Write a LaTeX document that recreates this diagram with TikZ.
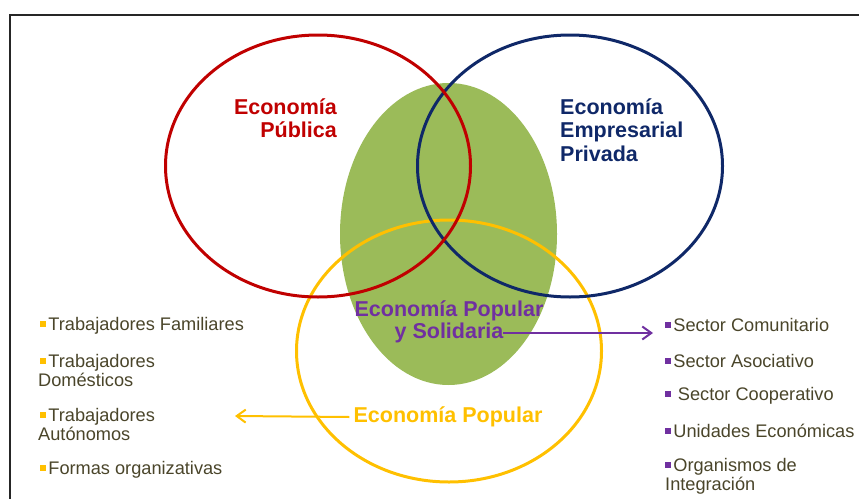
\documentclass[tikz,border=0pt]{standalone}
\usepackage{fontspec}
\setmainfont{Liberation Sans}
\usetikzlibrary{shapes.geometric,arrows.meta}
\definecolor{pubred}{HTML}{C00000}
\definecolor{privblue}{HTML}{0F2868}
\definecolor{epsgreen}{HTML}{9BBB59}
\definecolor{popyellow}{HTML}{FFC000}
\definecolor{solpurple}{HTML}{7030A0}
\definecolor{listtext}{HTML}{4A452A}
\newcommand{\sqbul}[1]{\textcolor{#1}{\rule[0.2em]{0.33em}{0.33em}}\hspace{0.12em}}
\begin{document}
\begin{tikzpicture}[x=1pt,y=-1pt,
  venn/.style={ellipse, draw=#1, line width=3pt, minimum width=305, minimum height=262, inner sep=0},
  biglabel/.style={inner sep=0, font=\bfseries\fontsize{21.5}{23.5}\selectfont},
  listitem/.style={inner sep=0, anchor=west, align=left, text=listtext, font=\fontsize{18.2}{19}\selectfont},
  pointer/.style={line width=2pt, -{Straight Barb[length=9pt,width=13pt,line width=2pt]}}]
\useasboundingbox (0,0) rectangle (859,498);
% outer frame, running past the page edges
\draw[line width=2pt, black!85] (10,530) -- (10,15) -- (880,15);

% shared area of the solidarity economy
\node[ellipse, fill=epsgreen, minimum width=217, minimum height=302, inner sep=0] (epsarea) at (448.5,234) {};

% the three economies
\node[venn=popyellow] (popular) at (449,351) {};
\node[venn=privblue] (private) at (570,166) {};
\node[venn=pubred] (public) at (318,166) {};

% circle labels
\node[biglabel, text=pubred, align=right, anchor=east] (pubtxt) at (337,118) {Economía\\Pública};
\node[biglabel, text=privblue, align=left, anchor=west] (privtxt) at (560,130) {Economía\\Empresarial\\Privada};
\node[biglabel, text=solpurple, align=center, font=\bfseries\fontsize{21.5}{22}\selectfont] (epstxt) at (449,322) {Economía Popular\\y Solidaria};
\node[biglabel, text=popyellow] (poptxt) at (448,417) {Economía Popular};

% popular economy: forms of work
\node[listitem] (w1) at (38,326) {\hspace{2pt}\sqbul{popyellow}Trabajadores Familiares};
\node[listitem] (w2) at (38,370.5) {\hspace{2pt}\sqbul{popyellow}Trabajadores\\Domésticos};
\node[listitem] (w3) at (38,424.5) {\hspace{2pt}\sqbul{popyellow}Trabajadores\\Autónomos};
\node[listitem] (w4) at (38,470) {\hspace{2pt}\sqbul{popyellow}Formas organizativas};

% popular and solidarity economy: sectors
\node[listitem] (s1) at (665,325) {\sqbul{solpurple}Sector Comunitario};
\node[listitem] (s2) at (665,361) {\sqbul{solpurple}Sector Asociativo};
\node[listitem] (s3) at (665,396) {\sqbul{solpurple}\hspace{0.25em}Sector Cooperativo};
\node[listitem] (s4) at (665,431) {\sqbul{solpurple}Unidades Económicas};
\node[listitem] (s5) at (665,476) {\sqbul{solpurple}Organismos de\\Integración};

% connectors
\coordinate (solend) at (503,333);
\draw[pointer, draw=solpurple] (solend) -- ([xshift=-12pt]s1.west |- solend);
\coordinate (poptip) at (235,416);
\draw[pointer, draw=popyellow] ([xshift=-4pt]poptxt.west) -- (poptip);
\end{tikzpicture}
\end{document}
